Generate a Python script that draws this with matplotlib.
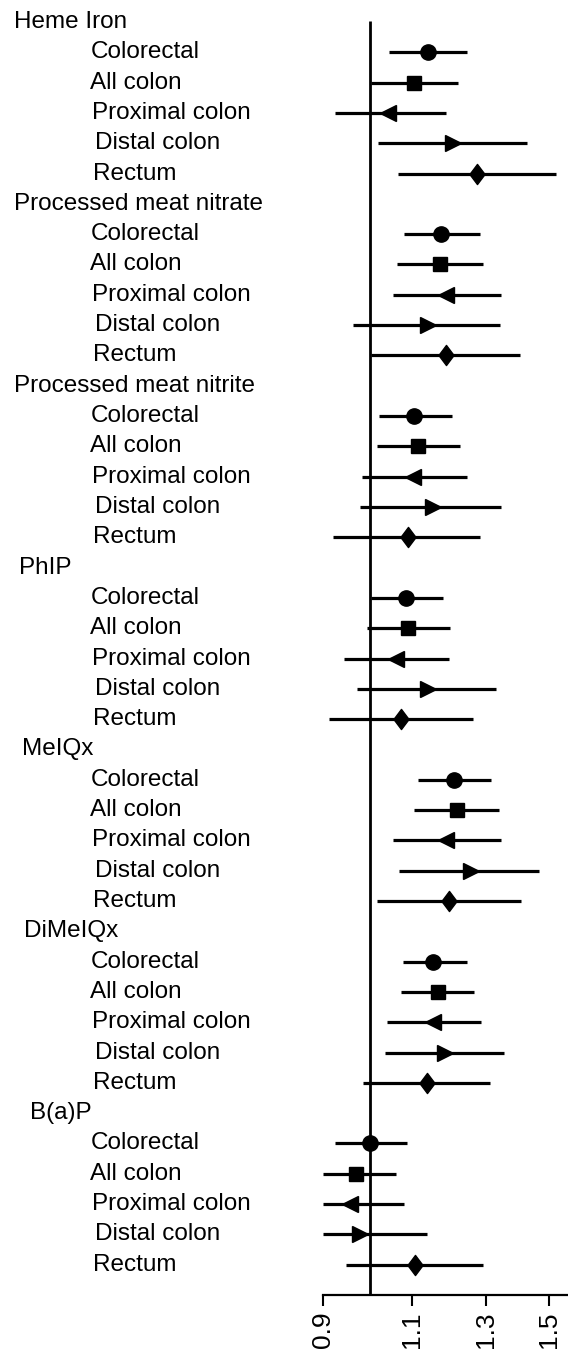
import matplotlib
matplotlib.use('Agg')
import matplotlib.pyplot as plt
from matplotlib.transforms import blended_transform_factory
from matplotlib.ticker import NullLocator, FixedLocator, FixedFormatter

plt.rcParams['font.family'] = ['Liberation Sans', 'DejaVu Sans']

# ---------------- data ----------------
groups = ["Heme Iron", "Processed meat nitrate", "Processed meat nitrite",
          "PhIP", "MeIQx", "DiMeIQx", "B(a)P"]
sites = ["Colorectal", "All colon", "Proximal colon", "Distal colon", "Rectum"]

heme_est = [1.140, 1.105, 1.042, 1.208, 1.275]
heme_lo = [1.045, 1.003, 0.924, 1.019, 1.066]
heme_hi = [1.245, 1.221, 1.188, 1.426, 1.524]

nitrate_est = [1.174, 1.172, 1.188, 1.141, 1.188]
nitrate_lo = [1.080, 1.063, 1.053, 0.963, 1.002]
nitrate_hi = [1.283, 1.293, 1.347, 1.342, 1.404]

nitrite_est = [1.106, 1.114, 1.103, 1.153, 1.089]
nitrite_lo = [1.020, 1.016, 0.982, 0.978, 0.921]
nitrite_hi = [1.205, 1.226, 1.247, 1.345, 1.283]

phip_est = [1.085, 1.091, 1.061, 1.141, 1.072]
phip_lo = [1.002, 0.994, 0.944, 0.971, 0.912]
phip_hi = [1.179, 1.199, 1.195, 1.330, 1.262]

meiqx_est = [1.210, 1.219, 1.188, 1.256, 1.197]
meiqx_lo = [1.116, 1.106, 1.054, 1.069, 1.017]
meiqx_hi = [1.317, 1.340, 1.346, 1.467, 1.407]

dimeiqx_est = [1.154, 1.166, 1.153, 1.185, 1.137]
dimeiqx_lo = [1.077, 1.073, 1.039, 1.036, 0.985]
dimeiqx_hi = [1.245, 1.267, 1.285, 1.355, 1.312]

bap_est = [1.000, 0.969, 0.957, 0.979, 1.107]
bap_lo = [0.924, 0.900, 0.900, 0.900, 0.947]
bap_hi = [1.087, 1.061, 1.080, 1.137, 1.293]

estimates = [heme_est, nitrate_est, nitrite_est, phip_est, meiqx_est, dimeiqx_est, bap_est]
lowers = [heme_lo, nitrate_lo, nitrite_lo, phip_lo, meiqx_lo, dimeiqx_lo, bap_lo]
uppers = [heme_hi, nitrate_hi, nitrite_hi, phip_hi, meiqx_hi, dimeiqx_hi, bap_hi]

tick_values = [0.9, 1.1, 1.3, 1.5]
tick_labels = ["0.9", "1.1", "1.3", "1.5"]

# ---------------- styles ----------------
diamond = [(-0.75, 0), (0, 1), (0.75, 0), (0, -1), (-0.75, 0)]
site_markers = ['o', 's', '<', '>', diamond]
site_msizes = [11, 10.5, 12, 12, 14.5]
group_x_px = [14, 14, 14, 19, 22, 24, 30]
site_x_px = [91, 90, 92, 95, 93]

W, H = 568, 1357
fig = plt.figure(figsize=(W / 100, H / 100), dpi=100)
x0 = 323.3
ax = fig.add_axes([x0 / W, (H - 1295) / H, 1 - x0 / W, 1295 / H])
ax.set_xscale('log')
ax.set_xlim(0.9, 1.566)
ax.set_ylim(42, -0.726)

for s in ['left', 'top', 'right']:
    ax.spines[s].set_visible(False)
ax.spines['bottom'].set_linewidth(1.6)
ax.set_yticks([])
ax.xaxis.set_minor_locator(NullLocator())
ax.xaxis.set_major_locator(FixedLocator(tick_values))
ax.xaxis.set_major_formatter(FixedFormatter(tick_labels))
ax.tick_params(axis='x', length=8, width=1.5, labelsize=19, labelrotation=90, pad=4)

ax.vlines(1.0, -0.03, 42, color='black', lw=2, clip_on=False)

tr = blended_transform_factory(fig.transFigure, ax.transData)
fs = 17.5
for gi, g in enumerate(groups):
    hrow = gi * 6
    ax.text(group_x_px[gi] / W, hrow, g, transform=tr, ha='left', va='center', fontsize=fs)
    for si, site in enumerate(sites):
        row = hrow + 1 + si
        ax.text(site_x_px[si] / W, row, site, transform=tr, ha='left', va='center', fontsize=fs)
        ax.hlines(row, lowers[gi][si], uppers[gi][si], color='black', lw=2.3, clip_on=False)
        ax.plot([estimates[gi][si]], [row], marker=site_markers[si], ms=site_msizes[si],
                color='black', mec='black', ls='none', clip_on=False)

fig.savefig('out.png', dpi=100)
